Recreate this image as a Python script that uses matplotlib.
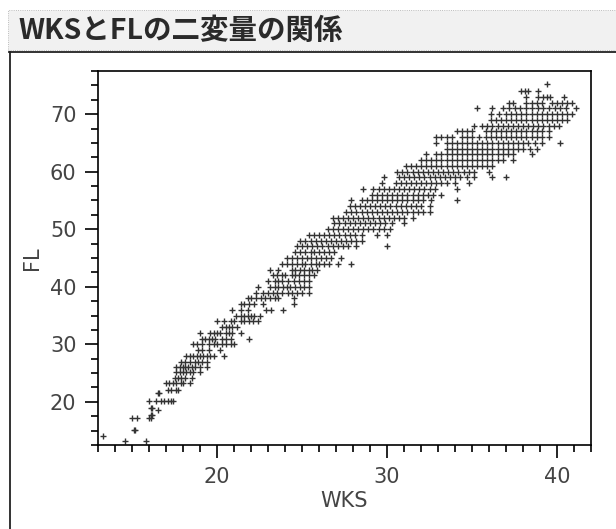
import matplotlib
matplotlib.use("Agg")
import matplotlib.pyplot as plt
from matplotlib.patches import Rectangle
from matplotlib.ticker import MultipleLocator

plt.rcParams["font.family"] = ["DejaVu Sans"]

title = "WKSとFLの二変量の関係"
x_name = "WKS"
y_name = "FL"
x_major = [20, 30, 40]
y_major = [20, 30, 40, 50, 60, 70]

# FL rows, with the WKS values seen on each row
fl_levels = [13.2, 14.1, 15.1, 17.2, 17.8, 18.6, 19.0, 20.2, 21.6, 22, 23.3, 24.2, 25.2, 26, 27, 28, 29, 30,
             31, 32, 33, 34, 35, 36, 37, 38, 39, 40, 41, 42, 43, 44, 45, 46, 47, 48, 49, 50,
             51, 52, 53, 54, 55, 56, 57, 58, 59, 60, 61, 62, 63, 64, 65, 66, 67, 68, 69, 70,
             71, 72, 73, 74, 75.3]
wks_rows = [
    [14.6, 15.8],
    [13.3],
    [15.1, 15.2],
    [15.0, 15.3, 16.0, 16.1],
    [16.1, 16.2],
    [16.5],
    [16.1, 16.2],
    [16.0, 16.4, 16.7, 16.9, 17.1, 17.3, 17.4],
    [16.5, 16.6],
    [17.1, 17.3, 17.6, 17.7],
    [17.0, 17.2, 17.4, 17.6, 17.9, 18.0, 18.4],
    [17.5, 17.7, 17.9, 18.1, 18.5],
    [17.6, 17.8, 18.0, 18.2, 18.4, 18.6, 19.0],
    [17.6, 17.8, 18.0, 18.1, 18.3, 18.5, 18.7, 19.0, 19.4],
    [17.9, 18.1, 18.4, 18.7, 18.9, 19.1, 19.4],
    [18.2, 18.4, 18.6, 18.8, 19.0, 19.2, 19.4, 19.6, 19.8, 20.4],
    [18.9, 19.1, 19.5, 20.2],
    [18.6, 18.8, 19.1, 19.5, 19.8, 20.0, 20.3, 20.5, 20.8, 21.0],
    [19.1, 19.3, 19.5, 19.7, 19.9, 20.3, 20.5, 20.8, 21.9],
    [19.0, 19.6, 19.8, 20.0, 20.2, 20.5, 20.7, 20.9, 21.4],
    [20.3, 20.5, 20.7, 20.9, 21.2],
    [20.0, 20.4, 20.8, 21.0, 21.4, 21.6, 21.9, 22.1, 22.4],
    [21.1, 21.4, 21.6, 21.8, 22.0, 22.2, 22.5],
    [20.9, 21.4, 21.8, 22.9, 23.2, 23.9],
    [21.4, 21.6, 21.9, 22.2, 22.7, 24.5],
    [21.8, 22.0, 22.3, 22.6, 22.8, 23.1, 23.4, 23.6, 24.5],
    [22.3, 22.7, 23.0, 23.3, 23.5, 23.8, 24.2, 24.4, 24.7, 25.0, 25.4],
    [22.4, 23.1, 23.4, 23.6, 23.9, 24.1, 24.3, 24.6, 24.9, 25.1, 25.4],
    [23.0, 23.4, 23.6, 23.8, 24.2, 24.5, 24.8, 25.1, 25.4],
    [23.3, 23.5, 23.8, 24.0, 24.4, 24.6, 24.8, 25.1, 25.4, 25.7],
    [23.1, 23.6, 24.4, 24.6, 24.9, 25.1, 25.4, 25.6, 25.9],
    [23.8, 24.1, 24.4, 24.7, 25.0, 25.2, 25.5, 25.8, 26.0, 26.3, 26.6, 27.1, 27.9],
    [24.1, 24.4, 24.7, 25.0, 25.3, 25.5, 25.8, 26.1, 26.4, 26.7, 27.3],
    [24.6, 24.9, 25.2, 25.5, 25.7, 26.0, 26.3, 26.6, 26.9],
    [24.7, 25.0, 25.3, 25.6, 25.9, 26.2, 26.5, 26.8, 27.1, 27.4, 27.7, 28.2, 30.0],
    [24.9, 25.2, 25.5, 25.8, 26.1, 26.4, 26.7, 27.0, 27.3, 27.6, 27.9, 28.2, 28.5],
    [25.4, 25.7, 26.0, 26.3, 26.6, 26.9, 27.2, 27.5, 27.8, 28.1, 28.5, 29.4, 30.0],
    [26.5, 26.8, 27.1, 27.4, 27.7, 28.0, 28.3, 28.6, 28.9, 29.2, 29.5, 29.8, 30.2],
    [26.9, 27.2, 27.5, 27.8, 28.1, 28.4, 28.7, 29.0, 29.3, 29.6, 29.9, 30.3, 31.0],
    [26.8, 27.1, 27.4, 27.7, 28.0, 28.3, 28.6, 28.9, 29.2, 29.5, 29.8, 30.1, 30.4, 30.7, 31.0, 31.5],
    [27.6, 27.9, 28.2, 28.5, 28.8, 29.1, 29.4, 29.7, 30.0, 30.3, 30.6, 30.9, 31.2, 31.5, 31.8, 32.1, 32.5],
    [27.8, 28.1, 28.4, 28.7, 29.0, 29.3, 29.6, 29.9, 30.2, 30.5, 30.8, 31.1, 31.4, 31.7, 32.0, 32.5],
    [27.9, 28.5, 28.8, 29.1, 29.4, 29.7, 30.0, 30.3, 30.6, 30.9, 31.2, 31.5, 31.8, 32.1, 32.6, 34.1],
    [29.1, 29.4, 29.7, 30.0, 30.3, 30.6, 30.9, 31.2, 31.5, 31.8, 32.1, 32.4, 32.7, 33.2],
    [28.6, 29.2, 29.5, 29.8, 30.1, 30.4, 30.7, 31.0, 31.3, 31.6, 31.9, 32.2, 32.5, 32.8, 34.1],
    [29.7, 30.5, 30.8, 31.1, 31.4, 31.7, 32.0, 32.3, 32.6, 32.9, 33.2, 33.5, 34.0, 34.8],
    [29.8, 30.7, 31.0, 31.3, 31.6, 31.9, 32.2, 32.5, 32.8, 33.1, 33.4, 33.7, 34.0, 34.3, 34.7, 35.1, 36.2, 37.0],
    [30.6, 30.9, 31.2, 31.5, 31.8, 32.1, 32.4, 32.7, 33.0, 33.3, 33.6, 33.9, 34.2, 34.5, 34.8, 35.1, 36.0],
    [31.1, 31.4, 31.7, 32.0, 32.3, 32.6, 32.9, 33.2, 33.5, 33.8, 34.1, 34.4, 34.7, 35.0, 35.3, 35.6, 35.9, 36.2],
    [32.0, 32.3, 32.6, 32.9, 33.2, 33.5, 33.8, 34.1, 34.4, 34.7, 35.0, 35.3, 35.6, 35.9, 36.2, 36.5, 36.8, 37.4],
    [32.3, 32.9, 33.2, 33.5, 33.8, 34.1, 34.4, 34.7, 35.0, 35.3, 35.6, 35.9, 36.2, 36.5, 36.8, 37.1, 37.4, 38.5],
    [33.5, 33.8, 34.1, 34.4, 34.7, 35.0, 35.3, 35.6, 35.9, 36.2, 36.5, 36.8, 37.1, 37.4, 37.7, 38.0, 38.4, 38.8],
    [32.9, 33.5, 33.8, 34.1, 34.4, 34.7, 35.0, 35.3, 35.6, 35.9, 36.2, 36.5, 36.8, 37.1, 37.4, 37.7, 38.0, 38.3, 38.7, 39.1, 40.2],
    [32.9, 33.2, 33.5, 33.8, 34.4, 34.7, 35.0, 35.4, 35.8, 36.1, 36.4, 36.7, 37.0, 37.3, 37.6, 37.9, 38.2, 38.5, 38.8, 39.1, 39.5],
    [34.1, 34.4, 34.7, 35.0, 35.8, 36.1, 36.4, 36.7, 37.0, 37.3, 37.6, 37.9, 38.2, 38.5, 38.8, 39.1, 39.5],
    [35.1, 35.6, 35.9, 36.2, 36.5, 36.8, 37.1, 37.4, 37.7, 38.0, 38.3, 38.6, 38.9, 39.2, 39.5, 39.8, 40.1],
    [36.1, 36.4, 36.7, 37.0, 37.3, 37.6, 37.9, 38.2, 38.5, 38.8, 39.1, 39.4, 39.7, 40.0, 40.3, 40.6],
    [36.1, 36.6, 37.0, 37.3, 37.6, 37.9, 38.2, 38.5, 38.8, 39.1, 39.4, 39.7, 40.0, 40.3, 40.6, 40.9],
    [35.3, 36.2, 36.8, 37.2, 37.5, 37.8, 38.2, 38.5, 38.9, 39.2, 39.5, 39.9, 40.2, 40.5, 41.1],
    [37.2, 37.4, 38.2, 38.5, 38.8, 39.1, 39.7, 40.0, 40.3, 40.6, 40.9],
    [38.2, 38.9, 39.2, 39.4, 39.6, 40.4],
    [37.9, 38.1, 38.3, 38.9],
    [39.4],
]


def draw_title_band(fig):
    w, h = fig.get_size_inches() * fig.dpi
    band = Rectangle((8 / w, 1 - 50 / h), 608 / w, 40 / h, transform=fig.transFigure,
                     facecolor="#f1f1f1", edgecolor="#aaaaaa", linewidth=0.6, linestyle=":")
    fig.add_artist(band)
    fig.text(18 / w, 1 - 31 / h, title, fontsize=20.5, fontweight="bold", color="#2a2a2a",
             family=["Noto Sans CJK JP", "DejaVu Sans"], va="center", ha="left")
    # frame round the plot, open on the right and at the bottom
    fig.add_artist(plt.Line2D([9.5 / w, 9.5 / w], [0, 1 - 52 / h], transform=fig.transFigure,
                              color="#222222", linewidth=1.3))
    fig.add_artist(plt.Line2D([9 / w, 1], [1 - 52 / h, 1 - 52 / h], transform=fig.transFigure,
                              color="#222222", linewidth=1.3))


def plot_scatter(ax):
    xs = []
    ys = []
    for level, row in zip(fl_levels, wks_rows):
        for v in row:
            xs.append(v)
            ys.append(level)
    ax.scatter(xs, ys, marker="+", s=14, linewidths=1.0, color="#333333")

    ax.set_xlim(13, 42)
    ax.set_ylim(12.5, 77.5)
    ax.set_xticks(x_major)
    ax.set_yticks(y_major)
    ax.xaxis.set_minor_locator(MultipleLocator(1))
    ax.yaxis.set_minor_locator(MultipleLocator(2.5))
    ax.tick_params(which="major", length=9.5, width=1.2, labelsize=15, labelcolor="#444444", pad=6)
    ax.tick_params(which="minor", length=5, width=1.2)
    for s in ax.spines.values():
        s.set_linewidth(1.2)
    ax.set_xlabel(x_name, fontsize=15, color="#444444", labelpad=3)
    ax.set_ylabel(y_name, fontsize=15, color="#444444", labelpad=6)


def main():
    fig = plt.figure(figsize=(6.16, 5.29), dpi=100)
    w, h = fig.get_size_inches() * fig.dpi
    ax = fig.add_axes([98 / w, 1 - 445 / h, 493 / w, 374 / h])
    plot_scatter(ax)
    draw_title_band(fig)
    fig.savefig("out.png", dpi=100)


if __name__ == "__main__":
    main()
